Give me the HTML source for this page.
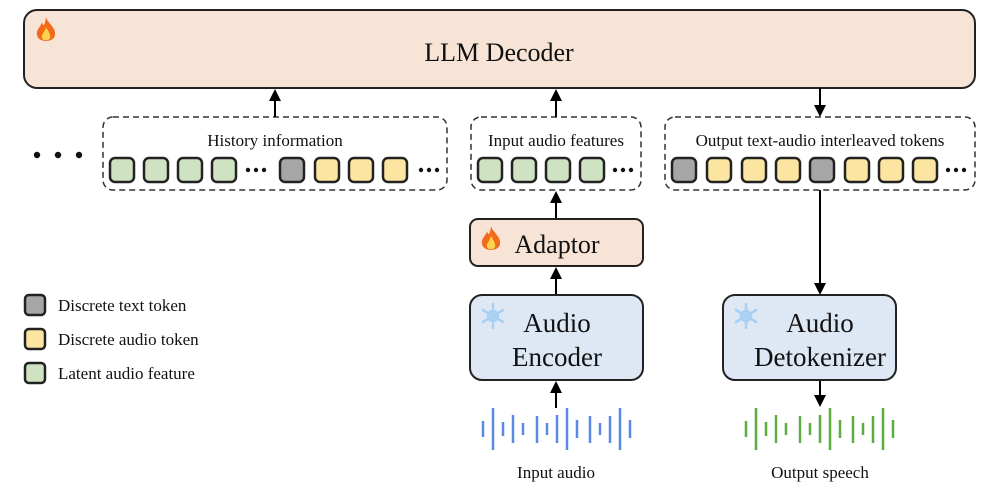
<!DOCTYPE html>
<html><head><meta charset="utf-8"><style>
html,body{margin:0;padding:0;background:#fff;}
svg{display:block;font-family:"Liberation Serif",serif;}
</style></head><body>
<svg width="997" height="490" viewBox="0 0 997 490" xmlns="http://www.w3.org/2000/svg">
<defs>
<g id="fire"><path d="M12,0 C14,7 22,10 21,18 C20,26 4,26 3,18 C2,12 7,10 8,5 C9,10 11,9 12,0Z" fill="#f26a1b"/><path d="M12,10 C14,14 17,17 16,21 C15,24 9,24 8,21 C7,17 11,15 12,10Z" fill="#fcd34d"/></g>
<g id="snow" stroke="#a8d0f2" stroke-width="2.5" fill="none"><line x1="13" y1="0" x2="13" y2="26"/><line x1="2" y1="6.5" x2="24" y2="19.5"/><line x1="2" y1="19.5" x2="24" y2="6.5"/><circle cx="13" cy="13" r="5"/></g>
<path id="up" d="M-6,12 L0,0 L6,12 Z" fill="#000"/>
<path id="dn" d="M-6,-12 L0,0 L6,-12 Z" fill="#000"/>
</defs>
<rect x="24" y="10" width="951" height="78" rx="13" fill="#f8e4d6" stroke="#222" stroke-width="2"/>
<use href="#fire" x="34" y="17"/>
<text x="499" y="61" font-size="26" text-anchor="middle" fill="#111">LLM Decoder</text>

<rect x="103" y="117" width="344" height="73" rx="10" fill="none" stroke="#333" stroke-width="1.5" stroke-dasharray="6,4"/>
<rect x="471" y="117" width="170" height="73" rx="10" fill="none" stroke="#333" stroke-width="1.5" stroke-dasharray="6,4"/>
<rect x="665" y="117" width="310" height="73" rx="10" fill="none" stroke="#333" stroke-width="1.5" stroke-dasharray="6,4"/>
<text x="275" y="146" font-size="17" text-anchor="middle" fill="#111">History information</text>
<text x="556" y="146" font-size="17" text-anchor="middle" fill="#111">Input audio features</text>
<text x="820" y="146" font-size="17" text-anchor="middle" fill="#111">Output text-audio interleaved tokens</text>

<g stroke="#222" stroke-width="2.5">
<rect x="110" y="158" width="24" height="24" rx="5" fill="#cfe3c3"/>
<rect x="144" y="158" width="24" height="24" rx="5" fill="#cfe3c3"/>
<rect x="178" y="158" width="24" height="24" rx="5" fill="#cfe3c3"/>
<rect x="212" y="158" width="24" height="24" rx="5" fill="#cfe3c3"/>
<rect x="280" y="158" width="24" height="24" rx="5" fill="#a6a6a6"/>
<rect x="315" y="158" width="24" height="24" rx="5" fill="#fbe5a1"/>
<rect x="349" y="158" width="24" height="24" rx="5" fill="#fbe5a1"/>
<rect x="383" y="158" width="24" height="24" rx="5" fill="#fbe5a1"/>
<rect x="478" y="158" width="24" height="24" rx="5" fill="#cfe3c3"/>
<rect x="512" y="158" width="24" height="24" rx="5" fill="#cfe3c3"/>
<rect x="546" y="158" width="24" height="24" rx="5" fill="#cfe3c3"/>
<rect x="580" y="158" width="24" height="24" rx="5" fill="#cfe3c3"/>
<rect x="672" y="158" width="24" height="24" rx="5" fill="#a6a6a6"/>
<rect x="707" y="158" width="24" height="24" rx="5" fill="#fbe5a1"/>
<rect x="742" y="158" width="24" height="24" rx="5" fill="#fbe5a1"/>
<rect x="776" y="158" width="24" height="24" rx="5" fill="#fbe5a1"/>
<rect x="810" y="158" width="24" height="24" rx="5" fill="#a6a6a6"/>
<rect x="845" y="158" width="24" height="24" rx="5" fill="#fbe5a1"/>
<rect x="879" y="158" width="24" height="24" rx="5" fill="#fbe5a1"/>
<rect x="913" y="158" width="24" height="24" rx="5" fill="#fbe5a1"/>
</g>
<g fill="#111">
<circle cx="248" cy="170" r="2.2"/><circle cx="256" cy="170" r="2.2"/><circle cx="264" cy="170" r="2.2"/>
<circle cx="421" cy="170" r="2.2"/><circle cx="429" cy="170" r="2.2"/><circle cx="437" cy="170" r="2.2"/>
<circle cx="615" cy="170" r="2.2"/><circle cx="623" cy="170" r="2.2"/><circle cx="631" cy="170" r="2.2"/>
<circle cx="948" cy="170" r="2.2"/><circle cx="956" cy="170" r="2.2"/><circle cx="964" cy="170" r="2.2"/>
<circle cx="37" cy="155" r="3.2"/><circle cx="58" cy="155" r="3.2"/><circle cx="79" cy="155" r="3.2"/>
</g>

<g stroke="#000" stroke-width="2">
<line x1="275" y1="117" x2="275" y2="100"/>
<line x1="556" y1="117" x2="556" y2="100"/>
<line x1="820" y1="88" x2="820" y2="105"/>
<line x1="556" y1="219" x2="556" y2="202"/>
<line x1="556" y1="295" x2="556" y2="278"/>
<line x1="556" y1="408" x2="556" y2="392"/>
<line x1="820" y1="190" x2="820" y2="284"/>
<line x1="820" y1="380" x2="820" y2="396"/>
</g>
<use href="#up" x="275" y="89"/>
<use href="#up" x="556" y="89"/>
<use href="#dn" x="820" y="117"/>
<use href="#up" x="556" y="191"/>
<use href="#up" x="556" y="267"/>
<use href="#up" x="556" y="381"/>
<use href="#dn" x="820" y="295"/>
<use href="#dn" x="820" y="407"/>

<rect x="470" y="219" width="173" height="47" rx="8" fill="#f8e4d6" stroke="#222" stroke-width="2"/>
<use href="#fire" x="479" y="226"/>
<text x="557" y="253" font-size="26" text-anchor="middle" fill="#111">Adaptor</text>

<rect x="470" y="295" width="173" height="85" rx="12" fill="#dde8f4" stroke="#222" stroke-width="2"/>
<use href="#snow" x="480" y="303"/>
<text x="557" y="332" font-size="27" text-anchor="middle" fill="#111">Audio</text>
<text x="557" y="366" font-size="27" text-anchor="middle" fill="#111">Encoder</text>

<rect x="723" y="295" width="173" height="85" rx="12" fill="#dde8f4" stroke="#222" stroke-width="2"/>
<use href="#snow" x="733" y="303"/>
<text x="820" y="332" font-size="27" text-anchor="middle" fill="#111">Audio</text>
<text x="820" y="366" font-size="27" text-anchor="middle" fill="#111">Detokenizer</text>

<g stroke="#5b8ae6" stroke-width="2.5">
<line x1="483" y1="421" x2="483" y2="437"/><line x1="493" y1="408" x2="493" y2="450"/><line x1="503" y1="422" x2="503" y2="436"/><line x1="513" y1="415" x2="513" y2="443"/><line x1="523" y1="423" x2="523" y2="435"/><line x1="537" y1="416" x2="537" y2="443"/><line x1="547" y1="423" x2="547" y2="435"/><line x1="557" y1="415" x2="557" y2="443"/><line x1="567" y1="408" x2="567" y2="450"/><line x1="577" y1="420" x2="577" y2="438"/><line x1="590" y1="416" x2="590" y2="443"/><line x1="600" y1="423" x2="600" y2="435"/><line x1="610" y1="416" x2="610" y2="443"/><line x1="620" y1="408" x2="620" y2="450"/><line x1="630" y1="420" x2="630" y2="438"/>
</g>
<g stroke="#5aad3e" stroke-width="2.5">
<line x1="746" y1="421" x2="746" y2="437"/><line x1="756" y1="408" x2="756" y2="450"/><line x1="766" y1="422" x2="766" y2="436"/><line x1="776" y1="415" x2="776" y2="443"/><line x1="786" y1="423" x2="786" y2="435"/><line x1="800" y1="416" x2="800" y2="443"/><line x1="810" y1="423" x2="810" y2="435"/><line x1="820" y1="415" x2="820" y2="443"/><line x1="830" y1="408" x2="830" y2="450"/><line x1="840" y1="420" x2="840" y2="438"/><line x1="853" y1="416" x2="853" y2="443"/><line x1="863" y1="423" x2="863" y2="435"/><line x1="873" y1="416" x2="873" y2="443"/><line x1="883" y1="408" x2="883" y2="450"/><line x1="893" y1="420" x2="893" y2="438"/>
</g>
<text x="556" y="478" font-size="17" text-anchor="middle" fill="#111">Input audio</text>
<text x="820" y="478" font-size="17" text-anchor="middle" fill="#111">Output speech</text>

<g stroke="#222" stroke-width="2.5">
<rect x="25" y="295" width="20" height="20" rx="4" fill="#a6a6a6"/>
<rect x="25" y="329" width="20" height="20" rx="4" fill="#fbe5a1"/>
<rect x="25" y="363" width="20" height="20" rx="4" fill="#cfe3c3"/>
</g>
<text x="58" y="311" font-size="17" fill="#111">Discrete text token</text>
<text x="58" y="345" font-size="17" fill="#111">Discrete audio token</text>
<text x="58" y="379" font-size="17" fill="#111">Latent audio feature</text>
</svg>
</body></html>
